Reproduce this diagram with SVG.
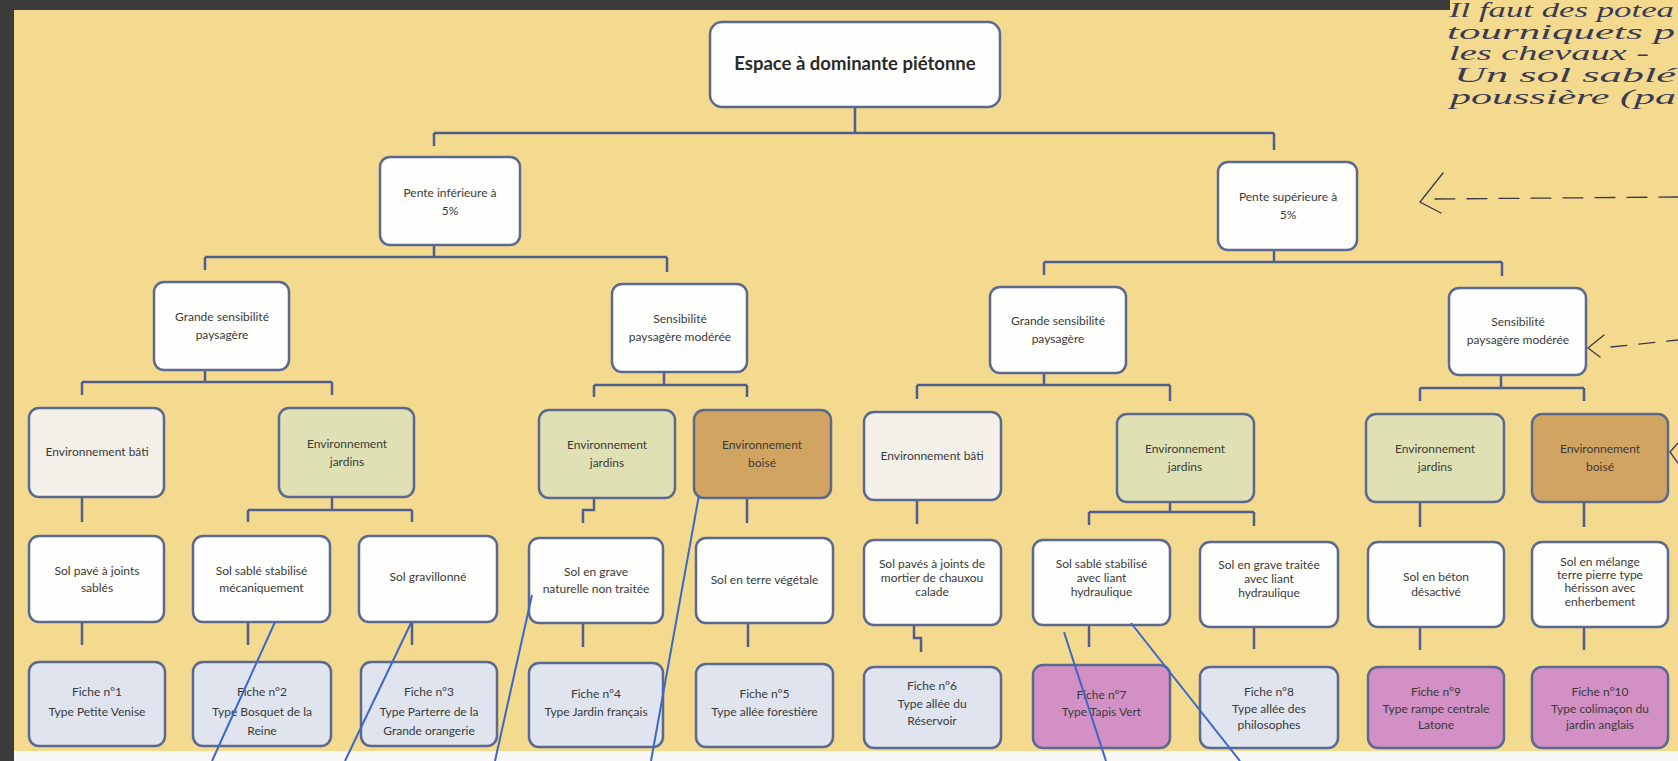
<svg xmlns="http://www.w3.org/2000/svg" width="1678" height="761" viewBox="0 0 1678 761">
<style>
.box{stroke:#5b6890;stroke-width:2.5}
.w{fill:#fefefc}
.bati{fill:#f3f0ea}
.jard{fill:#dfe1b4}
.bois{fill:#d2a462}
.fb{fill:#dfe4ee}
.fp{fill:#d290c4}
.t{font-family:Lato,"Liberation Sans",sans-serif;font-size:12px;fill:#3a3a3a;text-anchor:middle}
.root{font-family:Lato,"Liberation Sans",sans-serif;font-size:18.5px;font-weight:bold;fill:#2a2a2a;text-anchor:middle}
.c{stroke:#4f5d8f;stroke-width:2.5;fill:none}
.blue{stroke:#3a67c9;stroke-width:2;fill:none}
.hand{font-family:"Liberation Serif",serif;font-style:italic;font-size:20px;fill:#3a3a55}
.pen{stroke:#3a3a4a;stroke-width:1.3;fill:none;stroke-linecap:round}
</style>
<rect x="0" y="0" width="1678" height="761" fill="#3b3b3b"/>
<rect x="14" y="10" width="1664" height="741" fill="#f4da8f"/>
<rect x="1450" y="0" width="228" height="12" fill="#f4da8f"/>
<rect x="14" y="751" width="1664" height="10" fill="#f7f7f5"/>

<g id="handwriting">
<text class="hand" x="1449" y="17" textLength="225" lengthAdjust="spacingAndGlyphs">Il faut des potea</text>
<text class="hand" x="1447" y="39" textLength="228" lengthAdjust="spacingAndGlyphs">tourniquets p</text>
<text class="hand" x="1449" y="60" textLength="200" lengthAdjust="spacingAndGlyphs">les chevaux -</text>
<text class="hand" x="1454" y="82" textLength="222" lengthAdjust="spacingAndGlyphs">Un sol sablé</text>
<text class="hand" x="1450" y="104" textLength="226" lengthAdjust="spacingAndGlyphs">poussière (pa</text>
<path class="pen" d="M1443,173 L1420,202 L1441,213"/>
<path class="pen" d="M1435,199 L1678,197" stroke-dasharray="20 12"/>
<path class="pen" d="M1604,335 L1588,348 L1600,357"/>
<path class="pen" d="M1611,347 L1678,340" stroke-dasharray="16 12"/>
<path class="pen" d="M1678,443 L1670,452 L1678,463"/>
</g>

<g id="connectors">
<path class="c" d="M855,107 V133 M434,133 H1274 M434,133 V146 M1274,133 V150"/>
<path class="c" d="M434,245 V257 M205,257 H667 M205,257 V270 M667,257 V272"/>
<path class="c" d="M1274,250 V262 M1044,262 H1502 M1044,262 V275 M1502,262 V276"/>
<path class="c" d="M205,370 V382 M82,382 H332 M82,382 V395 M332,382 V395"/>
<path class="c" d="M664,372 V385 M594,385 H747 M594,385 V397 M747,385 V397"/>
<path class="c" d="M1044,373 V385 M917,385 H1170 M917,385 V399 M1170,385 V401"/>
<path class="c" d="M1501,375 V388 M1420,388 H1584 M1420,388 V401 M1584,388 V401"/>
<path class="c" d="M82,497 V522"/>
<path class="c" d="M332,497 V510 M248,510 H412 M248,510 V522 M412,510 V522"/>
<path class="c" d="M594,498 V510 H583 V523"/>
<path class="c" d="M747,498 V523"/>
<path class="c" d="M917,500 V524"/>
<path class="c" d="M1170,502 V512 M1089,512 H1254 M1089,512 V525 M1254,512 V526"/>
<path class="c" d="M1420,502 V527"/>
<path class="c" d="M1584,502 V527"/>
<path class="c" d="M82,622 V645 M248,622 V645 M412,622 V645 M583,623 V647 M748,623 V647"/>
<path class="c" d="M914,625 V638 H921 V652"/>
<path class="c" d="M1089,625 V647 M1254,627 V649 M1420,627 V650 M1584,627 V650"/>
</g>

<g id="root"><rect class="box w" x="710" y="22" width="290" height="85" rx="12"/><text class="root" x="855" y="70">Espace à dominante piétonne</text></g>

<g id="pente-inf"><rect class="box w" x="380" y="157" width="140" height="88" rx="10"/><text class="t" x="450" y="197">Pente inférieure à</text><text class="t" x="450" y="215">5%</text></g>
<g id="pente-sup"><rect class="box w" x="1218" y="162" width="139" height="88" rx="10"/><text class="t" x="1288" y="201">Pente supérieure à</text><text class="t" x="1288" y="219">5%</text></g>

<g id="gs-1"><rect class="box w" x="154" y="282" width="135" height="88" rx="10"/><text class="t" x="222" y="321">Grande sensibilité</text><text class="t" x="222" y="339">paysagère</text></g>
<g id="spm-1"><rect class="box w" x="612" y="284" width="135" height="88" rx="10"/><text class="t" x="680" y="323">Sensibilité</text><text class="t" x="680" y="341">paysagère modérée</text></g>
<g id="gs-2"><rect class="box w" x="990" y="287" width="136" height="86" rx="10"/><text class="t" x="1058" y="325">Grande sensibilité</text><text class="t" x="1058" y="343">paysagère</text></g>
<g id="spm-2"><rect class="box w" x="1449" y="288" width="137" height="87" rx="10"/><text class="t" x="1518" y="326">Sensibilité</text><text class="t" x="1518" y="344">paysagère modérée</text></g>

<g id="env-bati-1"><rect class="box bati" x="29" y="408" width="135" height="89" rx="10"/><text class="t" x="97" y="456">Environnement bâti</text></g>
<g id="env-jard-1"><rect class="box jard" x="279" y="408" width="135" height="89" rx="10"/><text class="t" x="347" y="448">Environnement</text><text class="t" x="347" y="466">jardins</text></g>
<g id="env-jard-2"><rect class="box jard" x="539" y="410" width="136" height="88" rx="10"/><text class="t" x="607" y="449">Environnement</text><text class="t" x="607" y="467">jardins</text></g>
<g id="env-bois-1"><rect class="box bois" x="694" y="410" width="137" height="88" rx="10"/><text class="t" x="762" y="449">Environnement</text><text class="t" x="762" y="467">boisé</text></g>
<g id="env-bati-2"><rect class="box bati" x="864" y="412" width="137" height="88" rx="10"/><text class="t" x="932" y="460">Environnement bâti</text></g>
<g id="env-jard-3"><rect class="box jard" x="1117" y="414" width="137" height="88" rx="10"/><text class="t" x="1185" y="453">Environnement</text><text class="t" x="1185" y="471">jardins</text></g>
<g id="env-jard-4"><rect class="box jard" x="1366" y="414" width="138" height="88" rx="10"/><text class="t" x="1435" y="453">Environnement</text><text class="t" x="1435" y="471">jardins</text></g>
<g id="env-bois-2"><rect class="box bois" x="1532" y="414" width="136" height="88" rx="10"/><text class="t" x="1600" y="453">Environnement</text><text class="t" x="1600" y="471">boisé</text></g>

<g id="sol-1"><rect class="box w" x="29" y="536" width="135" height="86" rx="10"/><text class="t" x="97" y="575">Sol pavé à joints</text><text class="t" x="97" y="592">sablés</text></g>
<g id="sol-2"><rect class="box w" x="193" y="536" width="137" height="86" rx="10"/><text class="t" x="261.5" y="575">Sol sablé stabilisé</text><text class="t" x="261.5" y="592">mécaniquement</text></g>
<g id="sol-3"><rect class="box w" x="359" y="536" width="138" height="86" rx="10"/><text class="t" x="428" y="581">Sol gravillonné</text></g>
<g id="sol-4"><rect class="box w" x="529" y="538" width="134" height="85" rx="10"/><text class="t" x="596" y="576">Sol en grave</text><text class="t" x="596" y="593">naturelle non traitée</text></g>
<g id="sol-5"><rect class="box w" x="696" y="538" width="137" height="85" rx="10"/><text class="t" x="764.5" y="584">Sol en terre végétale</text></g>
<g id="sol-6"><rect class="box w" x="864" y="540" width="137" height="85" rx="10"/><text class="t" x="932" y="568">Sol pavés à joints de</text><text class="t" x="932" y="582">mortier de chauxou</text><text class="t" x="932" y="596">calade</text></g>
<g id="sol-7"><rect class="box w" x="1033" y="540" width="137" height="85" rx="10"/><text class="t" x="1101.5" y="568">Sol sablé stabilisé</text><text class="t" x="1101.5" y="582">avec liant</text><text class="t" x="1101.5" y="596">hydraulique</text></g>
<g id="sol-8"><rect class="box w" x="1200" y="542" width="138" height="85" rx="10"/><text class="t" x="1269" y="569">Sol en grave traitée</text><text class="t" x="1269" y="583">avec liant</text><text class="t" x="1269" y="597">hydraulique</text></g>
<g id="sol-9"><rect class="box w" x="1368" y="542" width="136" height="85" rx="10"/><text class="t" x="1436" y="581">Sol en béton</text><text class="t" x="1436" y="596">désactivé</text></g>
<g id="sol-10"><rect class="box w" x="1532" y="542" width="136" height="85" rx="10"/><text class="t" x="1600" y="566">Sol en mélange</text><text class="t" x="1600" y="579">terre pierre type</text><text class="t" x="1600" y="592">hérisson avec</text><text class="t" x="1600" y="606">enherbement</text></g>

<g id="fiche-1"><rect class="box fb" x="29" y="662" width="136" height="84" rx="10"/><text class="t" x="97" y="696">Fiche n°1</text><text class="t" x="97" y="716">Type Petite Venise</text></g>
<g id="fiche-2"><rect class="box fb" x="193" y="662" width="138" height="84" rx="10"/><text class="t" x="262" y="696">Fiche n°2</text><text class="t" x="262" y="716">Type Bosquet de la</text><text class="t" x="262" y="735">Reine</text></g>
<g id="fiche-3"><rect class="box fb" x="361" y="662" width="136" height="84" rx="10"/><text class="t" x="429" y="696">Fiche n°3</text><text class="t" x="429" y="716">Type Parterre de la</text><text class="t" x="429" y="735">Grande orangerie</text></g>
<g id="fiche-4"><rect class="box fb" x="529" y="663" width="134" height="84" rx="10"/><text class="t" x="596" y="698">Fiche n°4</text><text class="t" x="596" y="716">Type Jardin français</text></g>
<g id="fiche-5"><rect class="box fb" x="696" y="664" width="137" height="83" rx="10"/><text class="t" x="764.5" y="698">Fiche n°5</text><text class="t" x="764.5" y="716">Type allée forestière</text></g>
<g id="fiche-6"><rect class="box fb" x="864" y="667" width="137" height="81" rx="10"/><text class="t" x="932" y="690">Fiche n°6</text><text class="t" x="932" y="708">Type allée du</text><text class="t" x="932" y="725">Réservoir</text></g>
<g id="fiche-7"><rect class="box fp" x="1033" y="665" width="137" height="83" rx="10"/><text class="t" x="1101.5" y="699">Fiche n°7</text><text class="t" x="1101.5" y="716">Type Tapis Vert</text></g>
<g id="fiche-8"><rect class="box fb" x="1200" y="667" width="138" height="81" rx="10"/><text class="t" x="1269" y="696">Fiche n°8</text><text class="t" x="1269" y="713">Type allée des</text><text class="t" x="1269" y="729">philosophes</text></g>
<g id="fiche-9"><rect class="box fp" x="1368" y="667" width="136" height="81" rx="10"/><text class="t" x="1436" y="696">Fiche n°9</text><text class="t" x="1436" y="713">Type rampe centrale</text><text class="t" x="1436" y="729">Latone</text></g>
<g id="fiche-10"><rect class="box fp" x="1532" y="667" width="136" height="81" rx="10"/><text class="t" x="1600" y="696">Fiche n°10</text><text class="t" x="1600" y="713">Type colimaçon du</text><text class="t" x="1600" y="729">jardin anglais</text></g>

<g id="annotation-lines">
<line class="blue" x1="275" y1="622" x2="212" y2="761"/>
<line class="blue" x1="411" y1="623" x2="345" y2="761"/>
<line class="blue" x1="532" y1="595" x2="495" y2="761"/>
<line class="blue" x1="699" y1="495" x2="651" y2="761"/>
<line class="blue" x1="1064" y1="632" x2="1106" y2="761"/>
<line class="blue" x1="1131" y1="623" x2="1240" y2="761"/>
</g>
</svg>
